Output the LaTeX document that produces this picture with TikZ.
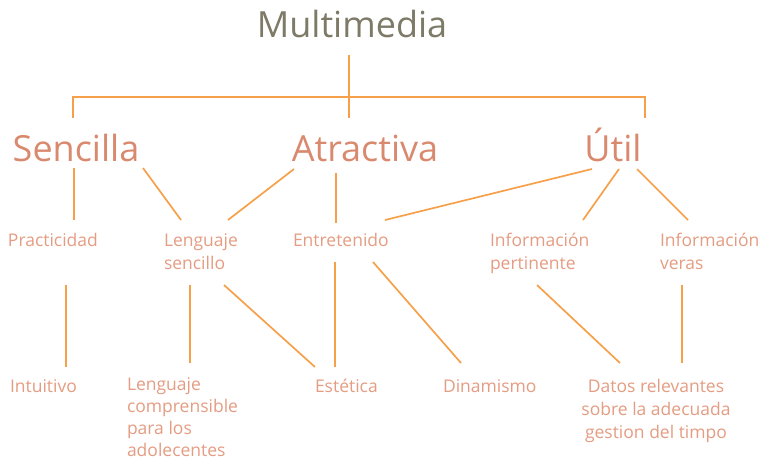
\documentclass[tikz,border=0pt]{standalone}
\usepackage{fontspec}
\setmainfont{Open Sans}
\definecolor{topgray}{HTML}{7E7A68}
\definecolor{headsalmon}{HTML}{D98A6E}
\definecolor{leafsalmon}{HTML}{E49C82}
\definecolor{linkorange}{HTML}{F6A04A}

\begin{document}
\begin{tikzpicture}[x=1pt,y=-1pt,
   every node/.style={inner sep=0pt,outer sep=0pt},
   topnode/.style={text=topgray,font=\fontsize{36}{43}\selectfont,anchor=base},
   headnode/.style={text=headsalmon,font=\fontsize{36}{43}\selectfont,anchor=base},
   leafnode/.style={text=leafsalmon,font=\fontsize{17.5}{23}\selectfont,anchor=base west,align=left},
   link/.style={draw=linkorange,line width=1.7pt}]
\useasboundingbox (0,0) rectangle (762,461);
\node[topnode] (mm) at (352,37) {Multimedia};
\node[headnode] (sen) at (76,161) {Sencilla};
\node[headnode] (atr) at (365,161) {Atractiva};
\node[headnode] (uti) at (613,161) {Útil};
% multi-line nodes sit on the baseline of their last line
\node[leafnode] (pra) at (8,246) {Practicidad};
\node[leafnode] (len) at (164,269) {Lenguaje\\sencillo};
\node[leafnode] (ent) at (293,246) {Entretenido};
\node[leafnode] (ipe) at (490,269) {Información\\pertinente};
\node[leafnode] (ive) at (660,269) {Información\\veras};
\node[leafnode] (int) at (10,392) {Intuitivo};
\node[leafnode,font=\fontsize{17.5}{22}\selectfont] (lco) at (127,456) {Lenguaje\\comprensible\\para los\\adolecentes};
\node[leafnode] (est) at (315,392) {Estética};
\node[leafnode] (din) at (443,392) {Dinamismo};
\node[leafnode,anchor=base,align=center] (dat) at (656,438) {Datos relevantes\\sobre la adecuada\\gestion del timpo};

\draw[link] ([shift={(-3,18)}]mm.base) -- ([shift={(-16,-43)}]atr.base);
\draw[link] ([shift={(-3,-43)}]sen.base) -- ++(0,-21) -| ([shift={(32,-43)}]uti.base);

\draw[link] ([shift={(-2,7)}]sen.base) -- ([shift={(66,-26)}]pra.base west);
\draw[link] ([shift={(67,7)}]sen.base) -- ([shift={(17,-49)}]len.base west);
\draw[link] ([shift={(-71,8)}]atr.base) -- ([shift={(64,-49)}]len.base west);
\draw[link] ([shift={(-29,12)}]atr.base) -- ([shift={(43,-23)}]ent.base west);
\draw[link] ([shift={(-21,8)}]uti.base) -- ([shift={(92,-26)}]ent.base west);
\draw[link] ([shift={(6,8)}]uti.base) -- ([shift={(93,-49)}]ipe.base west);
\draw[link] ([shift={(24,8)}]uti.base) -- ([shift={(28,-49)}]ive.base west);

\draw[link] ([shift={(58,39)}]pra.base west) -- ([shift={(56,-25)}]int.base west);
\draw[link] ([shift={(26,16)}]len.base west) -- ([shift={(63,-93)}]lco.base west);
\draw[link] ([shift={(60,16)}]len.base west) -- ([shift={(0,-25)}]est.base west);
\draw[link] ([shift={(42,16)}]ent.base west) -- ([shift={(20,-25)}]est.base west);
\draw[link] ([shift={(80,16)}]ent.base west) -- ([shift={(18,-29)}]din.base west);
\draw[link] ([shift={(47,16)}]ipe.base west) -- ([shift={(-36,-75)}]dat.base);
\draw[link] ([shift={(22,16)}]ive.base west) -- ([shift={(26,-75)}]dat.base);
\end{tikzpicture}
\end{document}
